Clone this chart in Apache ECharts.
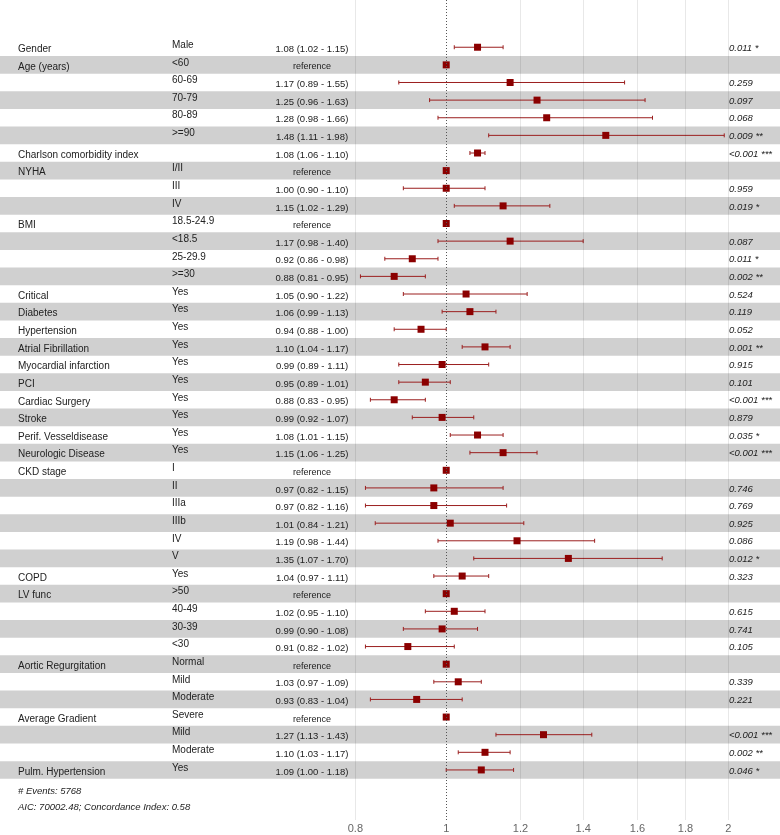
<!DOCTYPE html>
<html>
<head>
<meta charset="utf-8">
<script src="https://cdn.jsdelivr.net/npm/echarts@6/dist/echarts.min.js"></script>
<style>html,body{margin:0;padding:0;background:#fff;}#chart{width:780px;height:835px;}</style>
</head>
<body>
<div id="chart"></div>
<script>
// ---- data ----
const variables = ["Gender","Age (years)","","","","","Charlson comorbidity index","NYHA","","","BMI","","","","Critical","Diabetes","Hypertension","Atrial Fibrillation","Myocardial infarction","PCI","Cardiac Surgery","Stroke","Perif. Vesseldisease","Neurologic Disease","CKD stage","","","","","","COPD","LV func","","","","Aortic Regurgitation","","","Average Gradient","","","Pulm. Hypertension"];
const levels = ["Male","<60","60-69","70-79","80-89",">=90","","I/II","III","IV","18.5-24.9","<18.5","25-29.9",">=30","Yes","Yes","Yes","Yes","Yes","Yes","Yes","Yes","Yes","Yes","I","II","IIIa","IIIb","IV","V","Yes",">50","40-49","30-39","<30","Normal","Mild","Moderate","Severe","Mild","Moderate","Yes"];
const estimates = [1.08,1,1.17,1.25,1.28,1.48,1.08,1,1.00,1.15,1,1.17,0.92,0.88,1.05,1.06,0.94,1.10,0.99,0.95,0.88,0.99,1.08,1.15,1,0.97,0.97,1.01,1.19,1.35,1.04,1,1.02,0.99,0.91,1,1.03,0.93,1,1.27,1.10,1.09];
const lowers = [1.02,null,0.89,0.96,0.98,1.11,1.06,null,0.90,1.02,null,0.98,0.86,0.81,0.90,0.99,0.88,1.04,0.89,0.89,0.83,0.92,1.01,1.06,null,0.82,0.82,0.84,0.98,1.07,0.97,null,0.95,0.90,0.82,null,0.97,0.83,null,1.13,1.03,1.00];
const uppers = [1.15,null,1.55,1.63,1.66,1.98,1.10,null,1.10,1.29,null,1.40,0.98,0.95,1.22,1.13,1.00,1.17,1.11,1.01,0.95,1.07,1.15,1.25,null,1.15,1.16,1.21,1.44,1.70,1.11,null,1.10,1.08,1.02,null,1.09,1.04,null,1.43,1.17,1.18];
const pvalues = ["0.011 *","","0.259","0.097","0.068","0.009 **","<0.001 ***","","0.959","0.019 *","","0.087","0.011 *","0.002 **","0.524","0.119","0.052","0.001 **","0.915","0.101","<0.001 ***","0.879","0.035 *","<0.001 ***","","0.746","0.769","0.925","0.086","0.012 *","0.323","","0.615","0.741","0.105","","0.339","0.221","","<0.001 ***","0.002 **","0.046 *"];
const tickValues = [0.8,1,1.2,1.4,1.6,1.8,2];
const footerLines = ["# Events: 5768","AIC: 70002.48; Concordance Index: 0.58"];

// ---- build ----
const FONT = "'Liberation Sans', Arial, sans-serif";
const rows = estimates.map((e,i)=>i+1);
const isRef = lowers.map(v=>v===null);
const pointData = estimates.map((e,i)=>[e, rows[i]]);
const ciData = estimates.map((e,i)=>[lowers[i], uppers[i], rows[i]]).filter(d=>d[0]!==null);
const bandData = rows.filter(r=>r%2===0).map(r=>[r]);
const textData = rows.map((r,i)=>[r,i]);

const chart = echarts.init(document.getElementById('chart'), null, {renderer:'canvas'});
const option = {
  animation:false,
  backgroundColor:'#fff',
  grid:{left:0,right:0,top:0,bottom:15},
  xAxis:{
    type:'log', min:0.3341, max:2.2707,
    axisLine:{show:false}, axisTick:{show:false},
    splitLine:{show:false},
    axisLabel:{customValues:tickValues, margin:3, color:'#666', fontSize:11, fontFamily:FONT,
      formatter:v=>String(Math.round(v*10)/10)}
  },
  yAxis:{type:'value', inverse:true, min:-1.68, max:44.84, show:false},
  series:[
    { // row bands
      type:'custom', z:1, silent:true,
      data:bandData,
      renderItem:(params,api)=>{
        const cs=params.coordSys;
        const r=api.value(0);
        const y0=api.coord([1,r-0.5])[1], y1=api.coord([1,r+0.5])[1];
        return {type:'rect', shape:{x:cs.x, y:y0, width:cs.width, height:y1-y0}, style:{fill:'#d0d0d0'}};
      }
    },
    { // gridlines
      type:'line', data:[], z:2,
      markLine:{silent:true, symbol:'none', label:{show:false},
        data: tickValues.map(v=>({xAxis:v, lineStyle: v===1 ? {color:'#555', type:[1,2], width:1} : {color:'rgba(0,0,0,0.09)', type:'solid', width:1}}))
      }
    },
    { // confidence intervals
      type:'custom', z:3, silent:true,
      data:ciData,
      renderItem:(params,api)=>{
        const a=api.coord([api.value(0),api.value(2)]);
        const b=api.coord([api.value(1),api.value(2)]);
        const st={stroke:'#9b1f1f', lineWidth:1};
        return {type:'group', children:[
          {type:'line', shape:{x1:a[0],y1:a[1],x2:b[0],y2:b[1]}, style:st},
          {type:'line', shape:{x1:a[0],y1:a[1]-2,x2:a[0],y2:a[1]+2}, style:st},
          {type:'line', shape:{x1:b[0],y1:b[1]-2,x2:b[0],y2:b[1]+2}, style:st}
        ]};
      }
    },
    { // point estimates
      type:'scatter', z:4, silent:true, symbol:'rect', symbolSize:7,
      itemStyle:{color:'#8b0000', opacity:1}, data:pointData
    },
    { // table text
      type:'custom', z:5, silent:true,
      data:textData,
      renderItem:(params,api)=>{
        const cs=params.coordSys;
        const r=api.value(0), i=api.value(1);
        const y=api.coord([1,r])[1];
        const est = isRef[i] ? 'reference' : (estimates[i].toFixed(2)+' ('+lowers[i].toFixed(2)+' - '+uppers[i].toFixed(2)+')');
        const base={fontFamily:FONT, fill:'#222', textVerticalAlign:'middle'};
        return {type:'group', children:[
          {type:'text', x:cs.x+18, y:y+2, style:Object.assign({}, base, {text:variables[i], fontSize:10, textAlign:'left'})},
          {type:'text', x:cs.x+172, y:y-2, style:Object.assign({}, base, {text:levels[i], fontSize:10, textAlign:'left'})},
          {type:'text', x:cs.x+312, y:y+2, style:Object.assign({}, base, {text:est, fontSize: isRef[i]?9:9.5, textAlign:'center'})},
          {type:'text', x:cs.x+729, y:y+1, style:Object.assign({}, base, {text:pvalues[i], fontSize:9.5, fontStyle:'italic', textAlign:'left'})}
        ]};
      }
    }
  ],
  graphic: footerLines.map((t,k)=>({type:'text', left:18, top:786+k*16,
    style:{text:t, fontFamily:FONT, fontSize:9.5, fontStyle:'italic', fill:'#222'}}))
};
chart.setOption(option);
</script>
</body>
</html>
